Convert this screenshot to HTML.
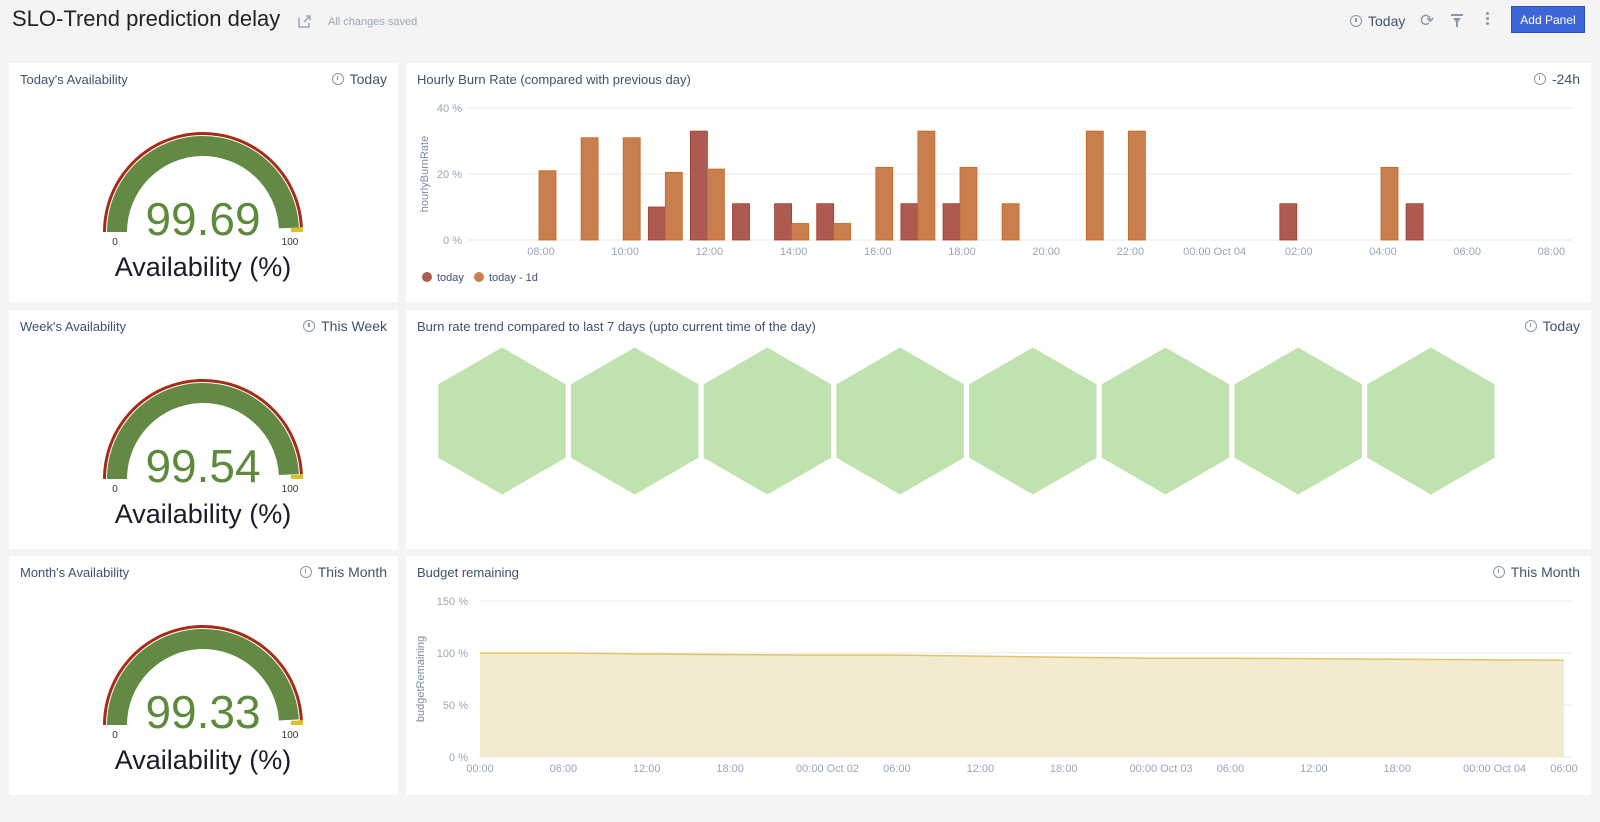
<!DOCTYPE html>
<html><head><meta charset="utf-8"><style>
body{margin:0;width:1600px;height:822px;background:#f4f4f5;font-family:"Liberation Sans",sans-serif;position:relative;overflow:hidden}
.abs{position:absolute}
.panel{position:absolute;background:#fff}
.ptitle{position:absolute;left:11px;top:9px;font-size:13px;color:#3f5270}
.prange{position:absolute;right:11px;top:8px;font-size:14px;color:#3f5270;display:flex;align-items:center;gap:6px}
.clock{width:10px;height:10px;border:1.5px solid #8a97ab;border-radius:50%;position:relative}
.clock:after{content:"";position:absolute;left:4px;top:2px;width:1.5px;height:4px;background:#8a97ab}
svg text{font-family:"Liberation Sans",sans-serif}
</style></head><body>
<div class="abs" style="left:12px;top:6px;font-size:22px;color:#222">SLO-Trend prediction delay</div>
<svg class="abs" style="left:297px;top:14px" width="15" height="15"><path d="M2 4v9h10v-4M7 8l6-6M9 2h4v4" stroke="#9aa5b8" fill="none" stroke-width="1.5"/></svg>
<div class="abs" style="left:328px;top:16px;font-size:11px;color:#9aa5b8">All changes saved</div>
<div class="abs" style="left:1350px;top:13px;display:flex;align-items:center;gap:6px;font-size:14px;color:#3f5270"><div class="clock"></div>Today</div>
<div class="abs" style="left:1420px;top:11px;font-size:17px;color:#8a97ab">⟳</div>
<svg class="abs" style="left:1451px;top:14px" width="12" height="13"><path d="M0 0h12v2H0zM2 4h8l-3 4v5H5V8z" fill="#8a97ab"/></svg>
<div class="abs" style="left:1486px;top:12px;width:3px;"><div style="width:3px;height:3px;background:#8a97ab;border-radius:50%;margin-bottom:2px"></div><div style="width:3px;height:3px;background:#8a97ab;border-radius:50%;margin-bottom:2px"></div><div style="width:3px;height:3px;background:#8a97ab;border-radius:50%"></div></div>
<div class="abs" style="left:1511px;top:6px;width:74px;height:27px;background:#3f66d6;color:#fff;font-size:12px;line-height:27px;text-align:center;border:1px solid #2a4fc0;box-sizing:border-box">Add Panel</div>

<div class="panel" style="left:9px;top:63px;width:389px;height:239px"><div class="ptitle">Today's Availability</div><div class="prange"><div class="clock"></div>Today</div><svg id="g1" class="abs" style="left:0;top:0" width="389" height="239"></svg></div>
<div class="panel" style="left:9px;top:310px;width:389px;height:239px"><div class="ptitle">Week's Availability</div><div class="prange"><div class="clock"></div>This Week</div><svg id="g2" class="abs" style="left:0;top:0" width="389" height="239"></svg></div>
<div class="panel" style="left:9px;top:556px;width:389px;height:239px"><div class="ptitle">Month's Availability</div><div class="prange"><div class="clock"></div>This Month</div><svg id="g3" class="abs" style="left:0;top:0" width="389" height="239"></svg></div>

<div class="panel" style="left:406px;top:63px;width:1185px;height:239px"><div class="ptitle">Hourly Burn Rate (compared with previous day)</div><div class="prange"><div class="clock"></div>-24h</div></div>
<div class="panel" style="left:406px;top:310px;width:1185px;height:239px"><div class="ptitle">Burn rate trend compared to last 7 days (upto current time of the day)</div><div class="prange"><div class="clock"></div>Today</div></div>
<div class="panel" style="left:406px;top:556px;width:1185px;height:239px"><div class="ptitle">Budget remaining</div><div class="prange"><div class="clock"></div>This Month</div></div>

<svg id="main" class="abs" style="left:0;top:0" width="1600" height="822"></svg>

<script>
const gaugeValues=[99.69,99.54,99.33];
const barHours=[7,8,9,10,11,12,13,14,15,16,17,18,19,20,21,22,23,24,25,26,27,28,29,30,31];
const todayValues=[0,0,0,0,10,33,11,11,11,0,11,11,0,0,0,0,0,0,0,11,0,0,11,0,0];
const prevDayValues=[0,21,31,31,20.5,21.5,0,5,5,22,33,22,11,0,33,33,0,0,0,0,0,22,0,0,0];
const barTickHours=[8,10,12,14,16,18,20,22,24,26,28,30,32];
const barTickLabels=["08:00","10:00","12:00","14:00","16:00","18:00","20:00","22:00","00:00 Oct 04","02:00","04:00","06:00","08:00"];
const barYTicks=[0,20,40];
const hexCount=8;
const budgetHours=[0,6,12,18,24,30,36,42,48,54,60,66,72,78];
const budgetValues=[100,100,99,98.5,98,98,97,96,95,95,94.5,94,93.5,93];
const budgetTickHours=[0,6,12,18,24,30,36,42,48,54,60,66,72,78];
const budgetTickLabels=["00:00","06:00","12:00","18:00","00:00 Oct 02","06:00","12:00","18:00","00:00 Oct 03","06:00","12:00","18:00","00:00 Oct 04","06:00"];
const budgetYTicks=[0,50,100,150];

const NS="http://www.w3.org/2000/svg";
function mk(p,tag,attrs,txt){const e=document.createElementNS(NS,tag);for(const k in attrs)e.setAttribute(k,attrs[k]);if(txt!==undefined)e.textContent=txt;p.appendChild(e);return e;}
function arc(cx,cy,r1,r2,a0,a1){
 const p=(r,t)=>[cx-r*Math.cos(Math.PI*t),cy-r*Math.sin(Math.PI*t)];
 const [x1,y1]=p(r2,a0),[x2,y2]=p(r2,a1),[x3,y3]=p(r1,a1),[x4,y4]=p(r1,a0);
 return `M${x1},${y1}A${r2},${r2} 0 0 1 ${x2},${y2}L${x3},${y3}A${r1},${r1} 0 0 0 ${x4},${y4}Z`;}
gaugeValues.forEach((v,i)=>{
 const s=document.getElementById('g'+(i+1));const cx=194,cy=169;
 const red=mk(s,'path',{d:arc(cx,cy,97,100,0,0.985),fill:'#a62c16'});
 
 const yel=mk(s,'path',{d:arc(cx,cy,88,100,0.985,1),fill:'#d8c22a'});
 
 const g=mk(s,'path',{d:arc(cx,cy,76,96,0,v/100*0.985+0.003),fill:'#638945'});
 
 const t=mk(s,'text',{x:cx,y:cy+3,'text-anchor':'middle','font-size':46,fill:'#5e8a3e'},v.toFixed(2));
 
 const a=mk(s,'text',{x:cx-88,y:cy+13,'text-anchor':'middle','font-size':10,fill:'#333'},'0');
 
 const b=mk(s,'text',{x:cx+87,y:cy+13,'text-anchor':'middle','font-size':10,fill:'#333'},'100');
 
 const l=mk(s,'text',{x:cx,y:cy+44,'text-anchor':'middle','font-size':27,fill:'#1a1a2a'},'Availability (%)');
 
});

const M=document.getElementById('main');
const bx0=468,bx1=1572,by0=240,by1=108;
const bX=h=>539+(h-8)*42.1;
const bY=v=>by0-(v/40)*(by0-by1);
barYTicks.forEach(t=>{
 const gl=mk(M,'line',{x1:bx0,x2:bx1,y1:bY(t),y2:bY(t),stroke:'#e6e8ec'});
 
 const tl=mk(M,'text',{x:462,y:bY(t)+4,'text-anchor':'end','font-size':11,fill:'#9aa5b8'},t+' %');
 
});
barTickHours.forEach((h,i)=>{
 const tl=mk(M,'text',{x:bX(h)+2,y:255,'text-anchor':'middle','font-size':11,fill:'#9aa5b8'},barTickLabels[i]);
 
});
barHours.forEach((h,i)=>{
 if(todayValues[i]>0){const r=mk(M,'rect',{x:bX(h)-17,y:bY(todayValues[i]),width:17,height:by0-bY(todayValues[i]),fill:'#ad5b50',stroke:'#a23a2c','stroke-width':0.8});
 }
 if(prevDayValues[i]>0){const r=mk(M,'rect',{x:bX(h),y:bY(prevDayValues[i]),width:17,height:by0-bY(prevDayValues[i]),fill:'#c97f4d',stroke:'#c8661e','stroke-width':0.8});
 }
});
const yt=mk(M,'text',{transform:'translate(428,174) rotate(-90)','text-anchor':'middle','font-size':11,fill:'#7d8ba3'},'hourlyBurnRate');

const l1=mk(M,'circle',{cx:427,cy:277,r:5,fill:'#ad5b50'});
const l1t=mk(M,'text',{x:437,y:281,'font-size':11,fill:'#3f5270'},'today');
const l2=mk(M,'circle',{cx:479,cy:277,r:5,fill:'#c97f4d'});
const l2t=mk(M,'text',{x:489,y:281,'font-size':11,fill:'#3f5270'},'today - 1d');

for(let k=0;k<hexCount;k++){
 const cx=502+132.7*k,cy=421,r=73.5;let pts=[];
 for(let j=0;j<6;j++){const a=Math.PI/3*j-Math.PI/2;pts.push((cx+r*Math.cos(a)).toFixed(1)+','+(cy+r*Math.sin(a)).toFixed(1));}
 const h=mk(M,'polygon',{points:pts.join(' '),fill:'#c0e2ae'});
 
}

const cx0=480,cx1=1564,cy0=757,cy1=601;
const cX=h=>cx0+(h/78)*(cx1-cx0);
const cY=v=>cy0-(v/150)*(cy0-cy1);
budgetYTicks.forEach(t=>{
 const gl=mk(M,'line',{x1:cx0,x2:cx1+8,y1:cY(t),y2:cY(t),stroke:'#e6e8ec'});
 
 const tl=mk(M,'text',{x:468,y:cY(t)+4,'text-anchor':'end','font-size':11,fill:'#9aa5b8'},t+' %');
 
});
let d='M'+cX(budgetHours[0])+','+cY(0);
budgetHours.forEach((h,i)=>{d+='L'+cX(h).toFixed(1)+','+cY(budgetValues[i]).toFixed(1);});
d+='L'+cX(budgetHours[budgetHours.length-1])+','+cY(0)+'Z';
const area=mk(M,'path',{d:d,fill:'#f3ebcf'});
const line=mk(M,'polyline',{points:budgetHours.map((h,i)=>cX(h).toFixed(1)+','+cY(budgetValues[i]).toFixed(1)).join(' '),fill:'none',stroke:'#e0c466','stroke-width':1.5});

budgetTickHours.forEach((h,i)=>{
 const tl=mk(M,'text',{x:cX(h)+(budgetTickLabels[i].length>6?14:0),y:772,'text-anchor':'middle','font-size':11,fill:'#9aa5b8'},budgetTickLabels[i]);
 
});
const yt2=mk(M,'text',{transform:'translate(424,679) rotate(-90)','text-anchor':'middle','font-size':11,fill:'#7d8ba3'},'budgetRemaining');

</script>
</body></html>
